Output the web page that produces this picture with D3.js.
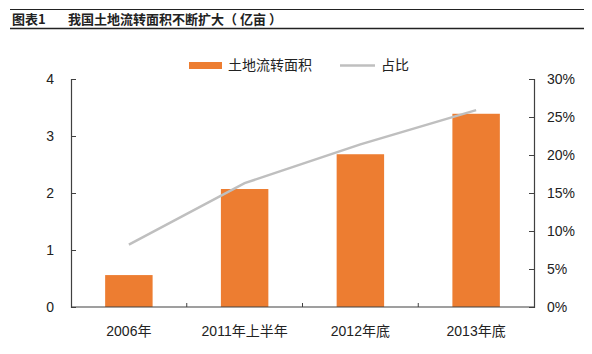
<!DOCTYPE html>
<html>
<head>
<meta charset="utf-8">
<script src="https://cdn.jsdelivr.net/npm/d3@7"></script>
<style>
  body { margin: 0; background: #fff; }
  svg { display: block; font-family: "Liberation Sans", Arial, sans-serif; }
</style>
</head>
<body>
<svg id="chart" width="592" height="354"></svg>
<script>
// data
var categories = ["2006年", "2011年上半年", "2012年底", "2013年底"];
var area = [0.56, 2.07, 2.68, 3.39];       // 亿亩
var share = [0.082, 0.163, 0.214, 0.259];  // 占比
var leftTicks = [0, 1, 2, 3, 4];
var rightTicks = [0, 0.05, 0.1, 0.15, 0.2, 0.25, 0.3];

var W = 592, H = 354;
var m = {left: 71, right: 58, top: 79, bottom: 47};
var axisColor = "#404040";
var barColor = "#ED7D31";
var lineColor = "#BFBFBF";

var svg = d3.select("#chart");

// title bar
svg.append("line").attr("x1", 10).attr("x2", W - 8).attr("y1", 9.5).attr("y2", 9.5)
    .attr("stroke", "#222").attr("stroke-width", 1);
svg.append("line").attr("x1", 10).attr("x2", W - 8).attr("y1", 28.5).attr("y2", 28.5)
    .attr("stroke", "#222").attr("stroke-width", 1.3);
svg.append("text").attr("x", 12).attr("y", 23.5)
    .attr("font-size", 13).attr("font-weight", "bold").attr("fill", "#222")
    .style("font-family", "'Noto Sans CJK SC', sans-serif")
    .text("图表1");
svg.append("text").attr("x", 68).attr("y", 23.5)
    .attr("font-size", 13).attr("font-weight", "bold").attr("fill", "#222")
    .style("font-family", "'Noto Sans CJK SC', sans-serif")
    .text("我国土地流转面积不断扩大（ 亿亩 ）");

var x = d3.scaleBand().domain(categories)
    .range([m.left, W - m.right]).paddingInner(0.59).paddingOuter(0.295);
var xEdge = d3.scaleLinear().domain([0, categories.length]).range([m.left, W - m.right]);
var yL = d3.scaleLinear().domain([0, 4]).range([H - m.bottom, m.top]);
var yR = d3.scaleLinear().domain([0, 0.3]).range([H - m.bottom, m.top]);

// bars
svg.append("g").selectAll("rect").data(area).join("rect")
    .attr("x", (d, i) => x(categories[i]))
    .attr("width", x.bandwidth())
    .attr("y", d => yL(d))
    .attr("height", d => yL(0) - yL(d))
    .attr("fill", barColor);

// line
var line = d3.line()
    .x((d, i) => x(categories[i]) + x.bandwidth() / 2)
    .y(d => yR(d));
svg.append("path").datum(share)
    .attr("d", line)
    .attr("fill", "none")
    .attr("stroke", lineColor)
    .attr("stroke-width", 2.5);

// left axis
var gL = svg.append("g").attr("transform", `translate(${m.left},0)`)
    .call(d3.axisRight(yL).tickValues(leftTicks).tickSize(5).tickFormat(d3.format("d")));
gL.selectAll("text").attr("x", -17).attr("text-anchor", "end");

// right axis
var gR = svg.append("g").attr("transform", `translate(${W - m.right},0)`)
    .call(d3.axisLeft(yR).tickValues(rightTicks).tickSize(5).tickFormat(d3.format(".0%")));
gR.selectAll("text").attr("x", 13).attr("text-anchor", "start");

[gL, gR].forEach(g => {
    g.select(".domain").attr("stroke", axisColor).attr("stroke-width", 1.2);
    g.selectAll(".tick line").attr("stroke", axisColor);
    g.selectAll(".tick text").attr("fill", "#222").attr("font-size", 14)
        .style("font-family", "'Liberation Sans', Arial, sans-serif");
});

// bottom axis
var gB = svg.append("g");
gB.append("line").attr("x1", m.left).attr("x2", W - m.right)
    .attr("y1", yL(0)).attr("y2", yL(0))
    .attr("stroke", axisColor).attr("stroke-width", 1.2);
gB.selectAll(".xtick").data(d3.range(1, categories.length)).join("line")
    .attr("x1", d => xEdge(d)).attr("x2", d => xEdge(d))
    .attr("y1", yL(0)).attr("y2", yL(0) - 4)
    .attr("stroke", axisColor);
gB.selectAll(".xlabel").data(categories).join("text")
    .attr("x", d => x(d) + x.bandwidth() / 2)
    .attr("y", yL(0) + 29)
    .attr("text-anchor", "middle")
    .attr("font-size", 14)
    .attr("fill", "#222")
    .style("font-family", "'Liberation Sans', 'Noto Sans CJK SC', sans-serif")
    .text(d => d);

// legend
var lg = svg.append("g");
lg.append("rect").attr("x", 189).attr("y", 62).attr("width", 33).attr("height", 7).attr("fill", barColor);
lg.append("text").attr("x", 228).attr("y", 70).attr("font-size", 14).attr("fill", "#222")
    .style("font-family", "'Noto Sans CJK SC', sans-serif").text("土地流转面积");
lg.append("line").attr("x1", 340).attr("x2", 375).attr("y1", 65.5).attr("y2", 65.5)
    .attr("stroke", lineColor).attr("stroke-width", 2.5);
lg.append("text").attr("x", 381).attr("y", 70).attr("font-size", 14).attr("fill", "#222")
    .style("font-family", "'Noto Sans CJK SC', sans-serif").text("占比");
</script>
</body>
</html>
